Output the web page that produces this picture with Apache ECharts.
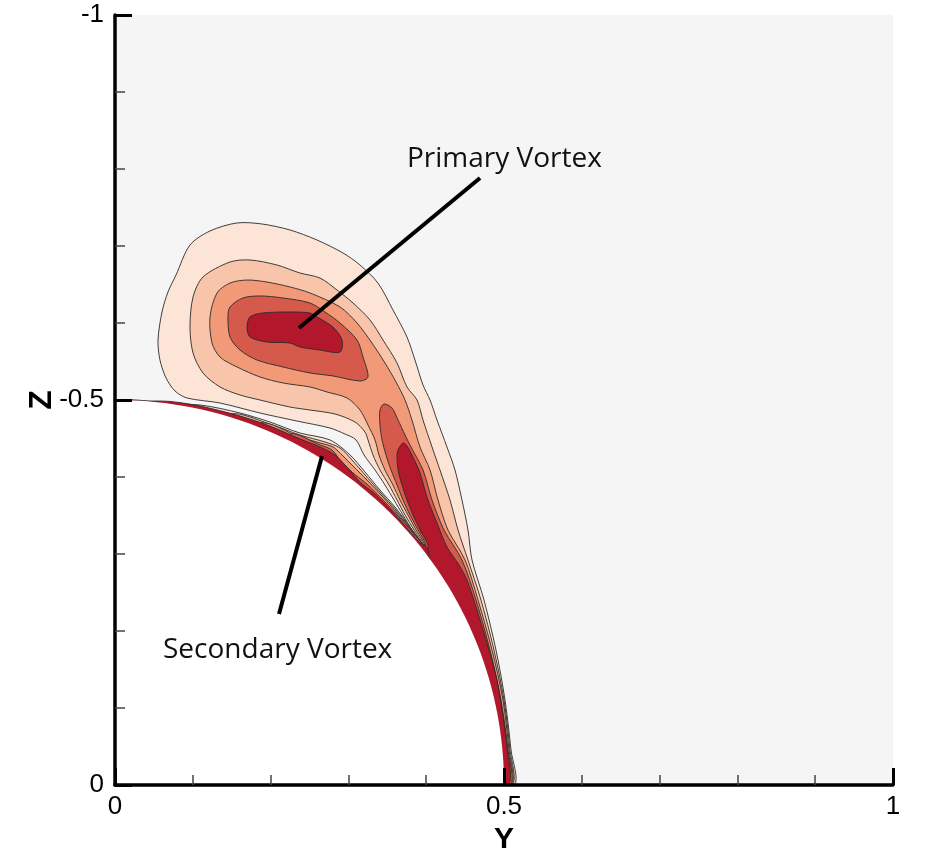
<!DOCTYPE html>
<html>
<head>
<meta charset="utf-8" />
<title>Vortex contours</title>
<script src="https://cdn.jsdelivr.net/npm/echarts@6/dist/echarts.min.js"></script>
<style>
  html, body { margin: 0; padding: 0; background: #fff; }
  #chart { width: 935px; height: 850px; }
</style>
</head>
<body>
<div id="chart"></div>
<script>
  // contour levels, lightest first; points are [Y, Z]
  var levelColors = ['#fce4d7', '#f8c5aa', '#f29a77', '#d65a4b', '#b3172c'];

  var contourL1 = [
    [0.0925,-0.5026],[0.0771,-0.5117],[0.0656,-0.5286],[0.0578,-0.5519],[0.0553,-0.5779],[0.0604,-0.6143],
    [0.0681,-0.6403],[0.0784,-0.6623],[0.0964,-0.7013],[0.1221,-0.7195],[0.1568,-0.7299],[0.1889,-0.7286],
    [0.2249,-0.7208],[0.2596,-0.7078],[0.2931,-0.6909],[0.3149,-0.6753],[0.3380,-0.6519],[0.3573,-0.6169],
    [0.3753,-0.5818],[0.3856,-0.5519],[0.3959,-0.5195],[0.4049,-0.5],[0.4139,-0.4740],[0.4267,-0.4390],
    [0.4370,-0.4091],[0.4460,-0.3701],[0.4537,-0.3312],[0.4589,-0.2922],[0.4743,-0.2403],[0.4897,-0.1753],
    [0.5013,-0.1104],[0.5090,-0.0455],[0.5129,0],
    [0.45,0],[0.40,-0.25],[0.38,-0.28],
    [0.3959,-0.3078],[0.3817,-0.3312],[0.3702,-0.3506],[0.3586,-0.3701],[0.3470,-0.3896],[0.3342,-0.4091],
    [0.3201,-0.4286],[0.3098,-0.4481],[0.2956,-0.4558],[0.2763,-0.4636],[0.2339,-0.4727],[0.1864,-0.4831],
    [0.1350,-0.4961]
  ];
  var contourL2 = [
    [0.1131,-0.5351],[0.1003,-0.5610],[0.0964,-0.5948],[0.1003,-0.6338],[0.1131,-0.6597],[0.1478,-0.6792],
    [0.1735,-0.6818],[0.2082,-0.6753],[0.2378,-0.6649],[0.2635,-0.6584],[0.2853,-0.6429],[0.3059,-0.6260],
    [0.3278,-0.6039],[0.3445,-0.5779],[0.3625,-0.5481],[0.3753,-0.5169],[0.3882,-0.5],[0.3959,-0.4740],
    [0.4075,-0.4390],[0.4177,-0.4091],[0.4306,-0.3701],[0.4409,-0.3312],[0.4537,-0.2922],[0.4704,-0.2403],
    [0.4871,-0.1753],[0.5,-0.1104],[0.5077,-0.0455],[0.5103,0],
    [0.45,0],[0.40,-0.25],[0.38,-0.28],
    [0.3972,-0.3078],[0.3843,-0.3312],[0.3728,-0.3506],[0.3625,-0.3701],[0.3522,-0.3896],[0.3406,-0.4091],
    [0.3316,-0.4286],[0.3252,-0.4481],[0.3213,-0.4584],[0.3085,-0.4714],[0.2828,-0.4818],[0.2506,-0.4870],
    [0.2249,-0.4909],[0.1864,-0.5],[0.1607,-0.5065],[0.1350,-0.5169]
  ];
  var contourL3 = [
    [0.1247,-0.5740],[0.1221,-0.6078],[0.1311,-0.6390],[0.1478,-0.6519],[0.1697,-0.6558],[0.1954,-0.6532],
    [0.2249,-0.6468],[0.2506,-0.6390],[0.2892,-0.6208],[0.3111,-0.6000],[0.3303,-0.5740],[0.3470,-0.5481],
    [0.3612,-0.5234],[0.3728,-0.5],[0.3817,-0.4740],[0.3920,-0.4390],[0.4049,-0.4091],[0.4152,-0.3701],
    [0.4280,-0.3312],[0.4499,-0.2922],[0.4666,-0.2403],[0.4846,-0.1753],[0.4987,-0.1104],[0.5064,-0.0455],
    [0.5090,0],
    [0.45,0],[0.40,-0.25],[0.38,-0.28],
    [0.3985,-0.3078],[0.3869,-0.3312],[0.3766,-0.3506],[0.3663,-0.3701],[0.3573,-0.3896],[0.3470,-0.4091],
    [0.3393,-0.4286],[0.3342,-0.4481],[0.3252,-0.4675],[0.3149,-0.4870],[0.2982,-0.5026],[0.2725,-0.5104],
    [0.2506,-0.5169],[0.2159,-0.5221],[0.1864,-0.5299],[0.1568,-0.5429],[0.1350,-0.5558]
  ];
  var contourL4core = [
    [0.1452,-0.6078],[0.1478,-0.6208],[0.1645,-0.6325],[0.1864,-0.6351],[0.2159,-0.6325],[0.2506,-0.6260],
    [0.2699,-0.6143],[0.2892,-0.6000],[0.3111,-0.5779],[0.3188,-0.5558],[0.3252,-0.5299],[0.3149,-0.5247],
    [0.2802,-0.5312],[0.2506,-0.5351],[0.2159,-0.5429],[0.1825,-0.5519],[0.1607,-0.5649],[0.1478,-0.5818]
  ];
  var contourL4finger = [
    [0.3458,-0.4948],[0.3560,-0.4896],[0.3638,-0.4740],[0.3728,-0.4545],[0.3805,-0.4390],[0.3959,-0.4091],
    [0.4075,-0.3701],[0.4229,-0.3312],[0.4460,-0.2922],[0.4640,-0.2403],[0.4820,-0.1753],[0.4961,-0.1104],
    [0.5051,-0.0455],[0.5077,0],
    [0.45,0],[0.40,-0.25],[0.38,-0.28],
    [0.3997,-0.3078],[0.3895,-0.3312],[0.3792,-0.3506],[0.3702,-0.3701],[0.3625,-0.3896],[0.3548,-0.4091],
    [0.3483,-0.4286],[0.3432,-0.4481],[0.3406,-0.4675],[0.3406,-0.4870]
  ];
  var contourL5core = [
    [0.1697,-0.5948],[0.1735,-0.6078],[0.1902,-0.6130],[0.2249,-0.6143],[0.2506,-0.6130],[0.2596,-0.6078],
    [0.2802,-0.5948],[0.2918,-0.5779],[0.2892,-0.5623],[0.2635,-0.5649],[0.2378,-0.5688],[0.2249,-0.5740],
    [0.1954,-0.5753],[0.1735,-0.5818]
  ];
  var contourL5finger = [
    [0.3702,-0.4442],[0.3753,-0.4403],[0.3830,-0.4260],[0.3920,-0.4052],[0.4010,-0.3740],[0.4139,-0.3403],
    [0.4267,-0.3091],[0.4422,-0.2857],[0.4524,-0.2662],[0.4653,-0.2273],[0.4781,-0.1844],[0.4910,-0.1364],
    [0.4987,-0.0883],[0.5039,-0.0494],[0.5051,0],
    [0.45,0],[0.40,-0.25],[0.38,-0.28],
    [0.4023,-0.3078],[0.3920,-0.3312],[0.3830,-0.3506],[0.3753,-0.3701],[0.3689,-0.3896],[0.3638,-0.4091],
    [0.3625,-0.4286],[0.3638,-0.4351]
  ];

  // secondary vortex contours hugging the wall
  var wallL1 = [
    [0.0900,-0.4909],[0.1093,-0.4935],[0.1607,-0.4831],[0.1992,-0.4714],[0.2378,-0.4571],[0.2763,-0.4481],
    [0.3021,-0.4286],[0.3213,-0.4065],[0.3406,-0.3831],[0.3599,-0.3610],[0.3792,-0.3351],[0.3959,-0.3078],
    [0.40,-0.25],[0.25,-0.35],[0.08,-0.46]
  ];
  var wallL2 = [
    [0.1478,-0.4818],[0.1992,-0.4688],[0.2378,-0.4545],[0.2699,-0.4455],[0.2892,-0.4377],[0.3046,-0.4221],
    [0.3226,-0.4013],[0.3419,-0.3792],[0.3612,-0.3571],[0.3805,-0.3325],[0.3972,-0.3065],
    [0.40,-0.25],[0.25,-0.35],[0.12,-0.45]
  ];
  var wallL3 = [
    [0.1864,-0.4701],[0.2378,-0.4519],[0.2635,-0.4442],[0.2802,-0.4390],[0.2931,-0.4273],[0.3059,-0.4143],
    [0.3239,-0.3961],[0.3432,-0.3753],[0.3625,-0.3532],[0.3817,-0.3299],[0.3985,-0.3052],
    [0.40,-0.25],[0.25,-0.35],[0.17,-0.43]
  ];
  var wallL4 = [
    [0.2249,-0.4558],[0.2635,-0.4416],[0.2789,-0.4351],[0.2892,-0.4221],[0.3046,-0.4065],[0.3252,-0.3896],
    [0.3445,-0.3701],[0.3638,-0.3494],[0.3830,-0.3273],[0.3997,-0.3039],
    [0.40,-0.25],[0.25,-0.35],[0.21,-0.42]
  ];
  var wallBand = [
    [0.0129,-0.4994],[0.0450,-0.4987],[0.0707,-0.4981],[0.1093,-0.4922],[0.1607,-0.4792],[0.1992,-0.4662],
    [0.2378,-0.4494],[0.2635,-0.4390],[0.2828,-0.4286],[0.2956,-0.4156],[0.3149,-0.3935],[0.3342,-0.3779],
    [0.3535,-0.3584],[0.3728,-0.3364],[0.3895,-0.3169],[0.4023,-0.3052],
    [0.40,-0.25],[0.25,-0.35],[0.08,-0.46],[0.01,-0.49]
  ];

  // body: quarter circle of radius 0.5 about the origin
  var bodyCenter = [0, 0];
  var bodyRadius = 0.5;

  var annotationLabels = ['Primary Vortex', 'Secondary Vortex'];
  var annotationLabelAt = [[0.3753, -0.8130], [0.0617, -0.1753]];
  var pointerFrom = [[0.4692, -0.7883], [0.2108, -0.2221]];
  var pointerTo = [[0.2365, -0.5935], [0.2661, -0.4273]];

  var layers = [
    [contourL1, 0], [contourL2, 1], [contourL3, 2], [contourL4core, 3], [contourL4finger, 3],
    [contourL5core, 4], [contourL5finger, 4],
    [wallL1, 0], [wallL2, 1], [wallL3, 2], [wallL4, 3], [wallBand, 4]
  ];

  var chart = echarts.init(document.getElementById('chart'));

  var tickFont = 'Liberation Sans, Arial, sans-serif';

  var option = {
    animation: false,
    backgroundColor: '#fff',
    grid: {
      left: 115, right: 42, top: 15, bottom: 65,
      show: true, backgroundColor: '#f5f5f5', borderWidth: 0,
      outerBoundsMode: 'none'
    },
    xAxis: {
      type: 'value', min: 0, max: 1, interval: 0.5, z: 10,
      name: 'Y', nameLocation: 'middle', nameGap: 34,
      nameTextStyle: { fontFamily: tickFont, fontWeight: 'bold', fontSize: 30, color: '#000' },
      axisLine: { show: true, onZero: false, lineStyle: { color: '#000', width: 3.5 } },
      axisTick: { show: true, inside: true, length: 17, lineStyle: { color: '#000', width: 3 } },
      minorTick: { show: true, splitNumber: 5, length: 10, lineStyle: { color: '#444', width: 1.5 } },
      axisLabel: { fontFamily: tickFont, fontSize: 26, color: '#000', margin: 9 },
      splitLine: { show: false }
    },
    yAxis: {
      type: 'value', min: -1, max: 0, interval: 0.5, inverse: true, z: 10,
      name: 'Z', nameLocation: 'middle', nameRotate: 90, nameGap: 57, nameMoveOverlap: false,
      nameTextStyle: { fontFamily: tickFont, fontWeight: 'bold', fontSize: 32, color: '#000' },
      axisLine: { show: true, onZero: false, lineStyle: { color: '#000', width: 3.5 } },
      axisTick: { show: true, inside: true, length: 17, lineStyle: { color: '#000', width: 3 } },
      minorTick: { show: true, splitNumber: 5, length: 10, lineStyle: { color: '#444', width: 1.5 } },
      axisLabel: { fontFamily: tickFont, fontSize: 26, color: '#000', margin: 11 },
      splitLine: { show: false }
    },
    series: [
      {
        // filled contour bands
        type: 'custom',
        clip: true,
        silent: true,
        z: 2,
        data: layers.map(function (l, i) { return [i]; }),
        renderItem: function (params, api) {
          var layer = layers[params.dataIndex];
          var pts = layer[0].map(function (p) { return api.coord(p); });
          return {
            type: 'polygon',
            z2: params.dataIndex,
            shape: { points: pts, smooth: 0.3 },
            style: { fill: levelColors[layer[1]], stroke: '#2a2a2a', lineWidth: 0.9 }
          };
        }
      },
      {
        // white body section
        type: 'custom',
        clip: true,
        silent: true,
        z: 3,
        data: [bodyCenter],
        renderItem: function (params, api) {
          var c = api.coord(bodyCenter);
          var s = api.size([bodyRadius, bodyRadius]);
          return {
            type: 'ellipse',
            shape: { cx: c[0], cy: c[1], rx: s[0], ry: s[1] },
            style: { fill: '#ffffff', stroke: null }
          };
        }
      },
      {
        // labels and pointers
        type: 'custom',
        silent: true,
        z: 4,
        data: annotationLabels.map(function (t, i) { return [i]; }),
        renderItem: function (params, api) {
          var i = params.dataIndex;
          var a = api.coord(pointerFrom[i]);
          var b = api.coord(pointerTo[i]);
          var t = api.coord(annotationLabelAt[i]);
          return {
            type: 'group',
            children: [
              {
                type: 'line',
                shape: { x1: a[0], y1: a[1], x2: b[0], y2: b[1] },
                style: { stroke: '#000', lineWidth: 4 }
              },
              {
                type: 'text',
                x: t[0], y: t[1],
                style: {
                  text: annotationLabels[i],
                  fontFamily: 'Open Sans', fontSize: 28,
                  fill: '#111', align: 'left', verticalAlign: 'middle'
                }
              }
            ]
          };
        }
      }
    ]
  };

  chart.setOption(option);
</script>
</body>
</html>
